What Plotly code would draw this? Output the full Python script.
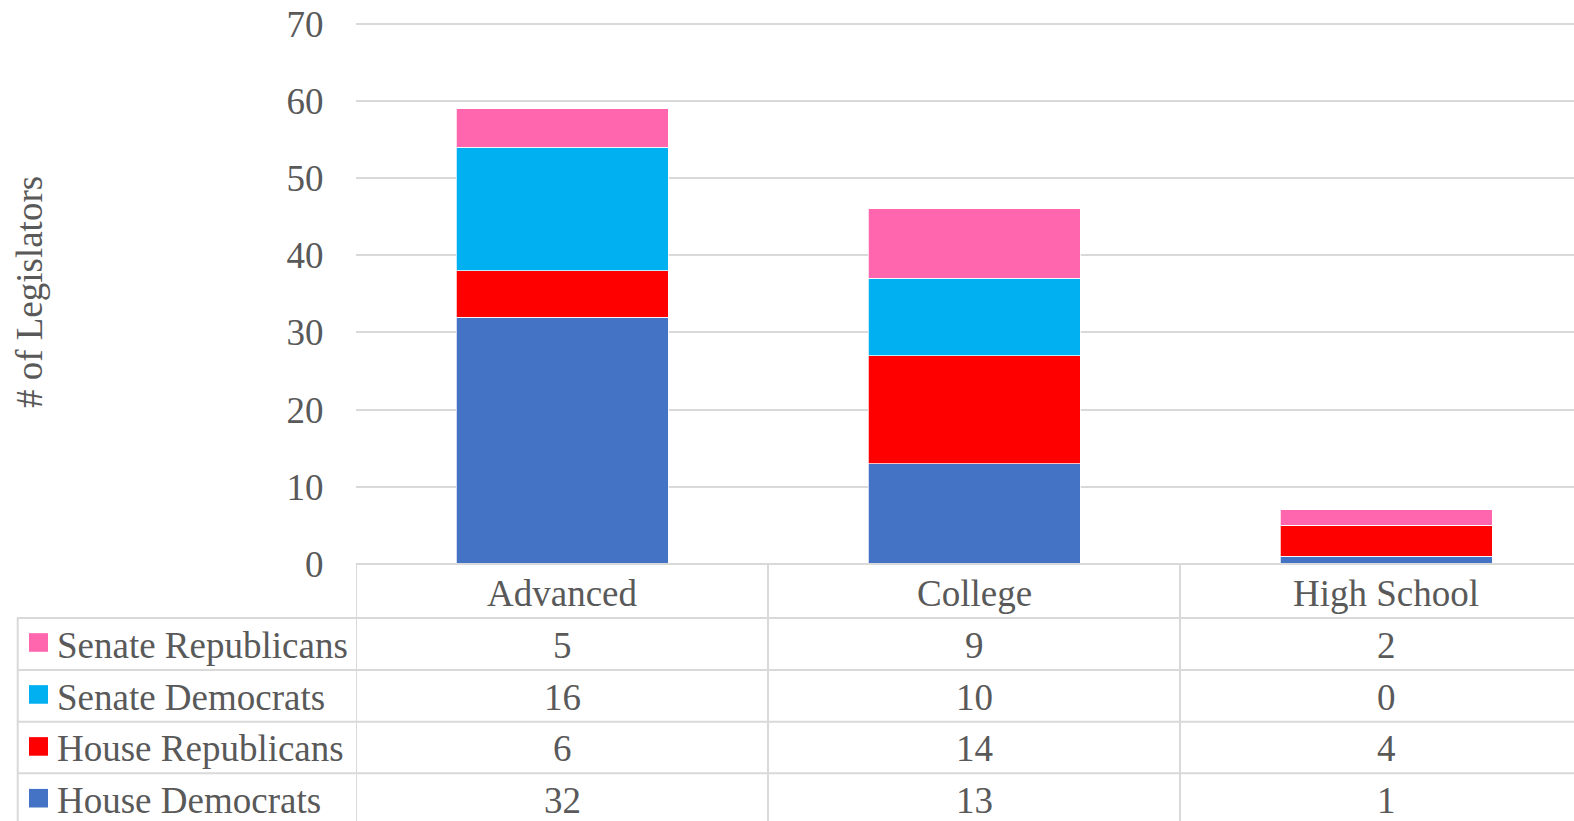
import plotly.graph_objects as go

categories = ["Advanced", "College", "High School"]
series_names = ["House Democrats", "House Republicans", "Senate Democrats", "Senate Republicans"]
house_democrats = [32, 13, 1]
house_republicans = [6, 14, 4]
senate_democrats = [16, 10, 0]
senate_republicans = [5, 9, 2]
y_ticks = [0, 10, 20, 30, 40, 50, 60, 70]
y_title = "# of Legislators"

series_values = [house_democrats, house_republicans, senate_democrats, senate_republicans]
colors = ["#4472C4", "#FF0000", "#00B0F0", "#FF66AD"]

W, H = 1574, 821
L = 356
B_PX = 564
PX_PER_UNIT = (564 - 23.5) / 70
Y_TOP = 71
T = B_PX - Y_TOP * PX_PER_UNIT
plot_h = B_PX - T
plot_w = W - L
cat_w = 412.0
FONT = "Liberation Serif, Times New Roman, serif"
TXT = "#595959"
GRID = "#D9D9D9"
FS = 37


def py2paper(py):
    return (B_PX - py) / plot_h


def px2paper(px):
    return (px - L) / plot_w


fig = go.Figure()
for name, vals, col in zip(series_names, series_values, colors):
    fig.add_trace(go.Bar(
        x=list(range(len(categories))), y=vals, name=name,
        marker=dict(color=col, line=dict(color="white", width=0.75)),
        showlegend=False,
    ))

shapes = []
annotations = []

row_edges = [564, 618, 670, 721.7, 773.3, 830]
for yy in row_edges[1:-1]:
    shapes.append(dict(type="line", xref="paper", yref="paper",
                       x0=px2paper(17), x1=1.05, y0=py2paper(yy), y1=py2paper(yy),
                       line=dict(color=GRID, width=2), layer="above"))
shapes.append(dict(type="line", xref="paper", yref="paper",
                   x0=px2paper(17.7), x1=px2paper(17.7), y0=py2paper(618), y1=py2paper(830),
                   line=dict(color=GRID, width=2)))
for k in range(len(categories) + 1):
    shapes.append(dict(type="line", xref="x", yref="paper",
                       x0=k - 0.5, x1=k - 0.5, y0=0, y1=py2paper(830),
                       line=dict(color=GRID, width=2)))
shapes.append(dict(type="line", xref="paper", yref="paper",
                   x0=0, x1=1.05, y0=0, y1=0, line=dict(color=GRID, width=2)))

for i, c in enumerate(categories):
    annotations.append(dict(x=i, y=py2paper(594), xref="x", yref="paper", text=c,
                            showarrow=False, font=dict(family=FONT, size=FS, color=TXT),
                            xanchor="center", yanchor="middle"))

table_order = list(range(len(series_names)))[::-1]
row_centers = [645.5, 697.5, 749, 801]
square_centers = [642.5, 694.5, 746.5, 798.3]
for r, si in enumerate(table_order):
    yc = row_centers[r]
    for i in range(len(categories)):
        annotations.append(dict(x=i, y=py2paper(yc), xref="x", yref="paper",
                                text=str(series_values[si][i]), showarrow=False,
                                font=dict(family=FONT, size=FS, color=TXT),
                                xanchor="center", yanchor="middle"))
    annotations.append(dict(x=px2paper(55), y=py2paper(yc), xref="paper", yref="paper",
                            text=series_names[si], showarrow=False,
                            font=dict(family=FONT, size=FS, color=TXT),
                            xanchor="left", yanchor="middle"))
    sc = square_centers[r]
    shapes.append(dict(type="rect", xref="paper", yref="paper",
                       x0=px2paper(29), x1=px2paper(48),
                       y0=py2paper(sc - 9.3), y1=py2paper(sc + 9.3),
                       fillcolor=colors[si], line=dict(width=0)))

annotations.append(dict(x=px2paper(29), y=py2paper(292), xref="paper", yref="paper",
                        text=y_title, textangle=-90, showarrow=False,
                        font=dict(family=FONT, size=FS, color=TXT),
                        xanchor="center", yanchor="middle"))

fig.update_layout(
    width=W, height=H,
    margin=dict(l=L, r=0, t=T, b=H - B_PX, pad=0),
    barmode="stack", bargap=1 - 212 / 412,
    plot_bgcolor="white", paper_bgcolor="white",
    font=dict(family=FONT, size=FS, color=TXT),
    shapes=shapes, annotations=annotations,
    xaxis=dict(range=[-0.5, -0.5 + plot_w / cat_w], showticklabels=False,
               showgrid=False, zeroline=False, showline=False, ticks=""),
    yaxis=dict(range=[0, Y_TOP], tickvals=y_ticks, showgrid=True, gridcolor=GRID,
               gridwidth=1.5, zeroline=False, showline=False,
               tickfont=dict(family=FONT, size=FS, color=TXT),
               ticks="outside", ticklen=24, tickcolor="rgba(0,0,0,0)"),
)

fig.write_html("out.html", config={"displayModeBar": False},
               post_script="document.body.style.margin='0px';document.body.style.overflow='hidden';")
